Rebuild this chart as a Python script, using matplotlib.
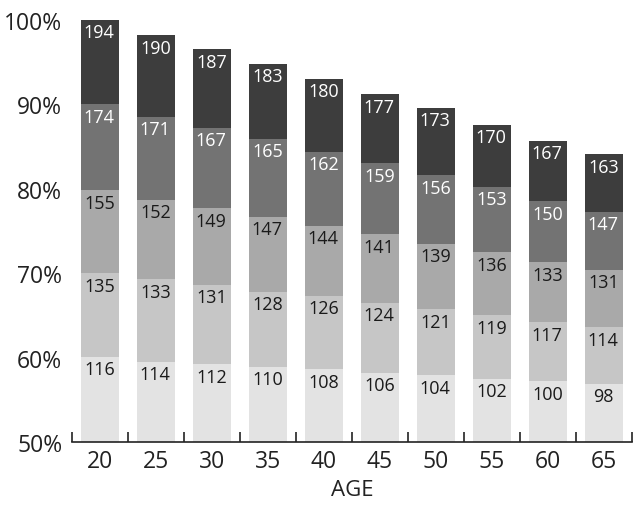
import matplotlib
matplotlib.use("Agg")
import matplotlib.pyplot as plt
import numpy as np

plt.rcParams['font.family'] = ['Open Sans', 'DejaVu Sans']

ages = ["20", "25", "30", "35", "40", "45", "50", "55", "60", "65"]

# zone boundaries (% of axis)
b_60 = [60.1, 59.5, 59.2, 58.9, 58.6, 58.2, 57.9, 57.5, 57.2, 56.9]
b_70 = [70.0, 69.3, 68.6, 67.8, 67.3, 66.5, 65.7, 65.0, 64.2, 63.6]
b_80 = [79.8, 78.7, 77.7, 76.7, 75.6, 74.6, 73.5, 72.5, 71.3, 70.4]
b_90 = [90.0, 88.5, 87.2, 85.9, 84.4, 83.0, 81.6, 80.2, 78.5, 77.3]
b_top = [100.0, 98.2, 96.5, 94.8, 93.0, 91.2, 89.6, 87.6, 85.7, 84.1]

# heart-rate labels in each zone
hr_z1 = [116, 114, 112, 110, 108, 106, 104, 102, 100, 98]
hr_z2 = [135, 133, 131, 128, 126, 124, 121, 119, 117, 114]
hr_z3 = [155, 152, 149, 147, 144, 141, 139, 136, 133, 131]
hr_z4 = [174, 171, 167, 165, 162, 159, 156, 153, 150, 147]
hr_z5 = [194, 190, 187, 183, 180, 177, 173, 170, 167, 163]

base = 50.0
bounds = [[base] * len(ages), b_60, b_70, b_80, b_90, b_top]
labels = [hr_z1, hr_z2, hr_z3, hr_z4, hr_z5]
colors = ["#e3e3e3", "#c6c6c6", "#a9a9a9", "#737373", "#3d3d3d"]
txt_colors = ["#1a1a1a", "#1a1a1a", "#1a1a1a", "#ffffff", "#ffffff"]

fig = plt.figure(figsize=(6.37, 5.06), dpi=100)
ax = fig.add_axes([72 / 637, 1 - 443 / 506, 560 / 637, 423 / 506])

x = np.arange(len(ages))
width = 0.69
for z in range(5):
    bot = np.array(bounds[z])
    top = np.array(bounds[z + 1])
    ax.bar(x, top - bot, bottom=bot, width=width, color=colors[z],
           edgecolor='none', zorder=2)
    for i in range(len(ages)):
        ax.annotate(str(labels[z][i]), xy=(x[i], top[i]), xytext=(-0.5, -2.5),
                    textcoords='offset points', ha='center', va='top',
                    fontsize=13, color=txt_colors[z], zorder=3)

ax.set_xlim(-0.5, len(ages) - 0.5)
ax.set_ylim(50, 100.1)
ax.set_yticks([50, 60, 70, 80, 90, 100])
ax.set_yticklabels(["50%", "60%", "70%", "80%", "90%", "100%"])
ax.set_xticks(x)
ax.set_xticklabels(ages)
ax.set_xticks(np.arange(-0.5, len(ages)), minor=True)
ax.tick_params(axis='x', which='major', length=0, pad=5, labelsize=16.5, labelcolor='#222222')
ax.tick_params(axis='x', which='minor', direction='in', length=7, width=1.2, color='#222222')
ax.tick_params(axis='y', length=0, pad=7, labelsize=16.5, labelcolor='#222222')
for s in ['top', 'right', 'left']:
    ax.spines[s].set_visible(False)
ax.spines['bottom'].set_linewidth(1.2)
ax.spines['bottom'].set_color('#222222')
ax.set_xlabel("AGE", fontsize=16, color='#222222', labelpad=4)

fig.savefig("out.png", dpi=100)
